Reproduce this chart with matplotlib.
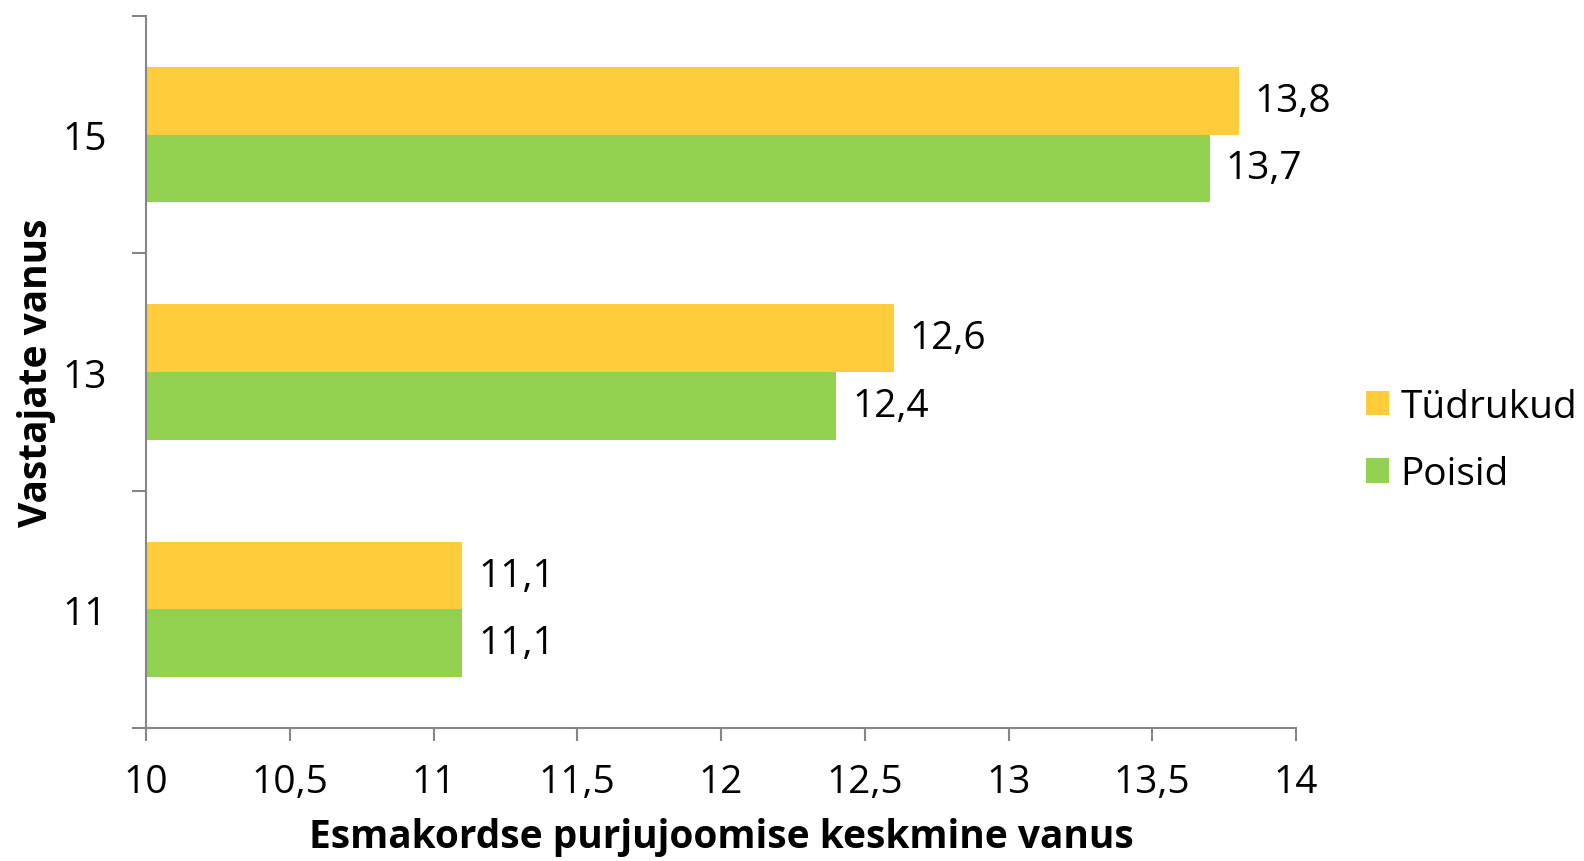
import numpy as np
import matplotlib.pyplot as plt

# data
ages = ['11', '13', '15']
tudrukud = [11.1, 12.6, 13.8]
poisid = [11.1, 12.4, 13.7]
xticks = [10, 10.5, 11, 11.5, 12, 12.5, 13, 13.5, 14]

yellow = '#FFCD3C'
green = '#92D050'
grey = '#868686'
fs = 28

plt.rcParams['font.family'] = ['Open Sans', 'DejaVu Sans']

fig = plt.figure(figsize=(15.84, 8.62), dpi=100)
ax = fig.add_axes([146/1584, 1 - 729/862, 1150/1584, (729-17)/862])

y = np.arange(len(ages))
h = 0.285
b1 = ax.barh(y + h/2, tudrukud, height=h, color=yellow, label='Tüdrukud')
b2 = ax.barh(y - h/2, poisid, height=h, color=green, label='Poisid')

for bars, vals in [(b1, tudrukud), (b2, poisid)]:
    for bar, v in zip(bars, vals):
        ax.annotate(f'{v:.1f}'.replace('.', ','),
                    (v, bar.get_y() + bar.get_height()/2),
                    xytext=(16, 0), textcoords='offset pixels',
                    va='center', ha='left', fontsize=fs)

ax.set_xlim(10, 14)
ax.set_ylim(-0.5, 2.5)
ax.set_xticks(xticks)
ax.set_xticklabels([str(t).replace('.', ',') for t in xticks], fontsize=fs)
ax.set_yticks(y)
ax.set_yticklabels(ages, fontsize=fs)
ax.set_yticks(np.arange(-0.5, 3, 1), minor=True)
ax.tick_params(axis='y', which='major', length=0, pad=28)
ax.tick_params(axis='y', which='minor', length=10, color=grey, width=1.5)
ax.tick_params(axis='x', length=9, color=grey, width=1.5, pad=16)

for s in ['top', 'right']:
    ax.spines[s].set_visible(False)
for s in ['left', 'bottom']:
    ax.spines[s].set_color(grey)
    ax.spines[s].set_linewidth(1.5)

ax.set_xlabel('Esmakordse purjujoomise keskmine vanus', fontsize=fs, fontweight='bold', labelpad=12)
ax.set_ylabel('Vastajate vanus', fontsize=fs, fontweight='bold', labelpad=5)

ax.legend(loc='center left', bbox_to_anchor=(1.03, 0.404), frameon=False, fontsize=fs,
          handlelength=0.6, handleheight=0.6, handletextpad=0.3, labelspacing=0.75)

fig.savefig('out.png', dpi=100)
